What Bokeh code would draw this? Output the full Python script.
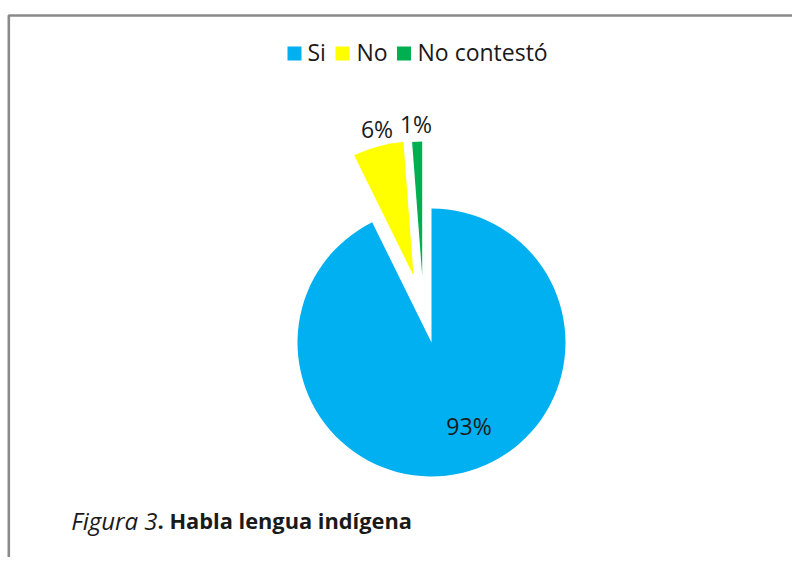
import math
from bokeh.plotting import figure
from bokeh.models import ColumnDataSource, Range1d
from bokeh.core.properties import value
from bokeh.embed import file_html
from bokeh.resources import INLINE

# ---- data ----
categories = ["Si", "No", "No contestó"]
percent = [92.7, 6.1, 1.2]
colors = ["#00B0F0", "#FFFF00", "#00B050"]
caption_italic = "Figura 3"
caption_bold = ". Habla lengua indígena"

# ---- style / layout (pixel units, data units == pixels) ----
W, H = 792, 557
FONT = value("Open Sans")
TEXT_COLOR = "#1a1a1a"

def X(sx):
    return sx

def Y(sy):
    return H - sy

cx, cy, R = X(431), Y(342), 134
explode_dx = [0, -18, -9.3]     # screen px
explode_dy = [0, -67, -67]      # screen px (down positive)
label_dx = [37.5, -36.5, -6.2]  # label centre relative to slice apex, screen px
label_dy = [83.5, -147, -152]

p = figure(width=W, height=H, x_range=Range1d(0, W), y_range=Range1d(0, H),
           output_backend="svg", toolbar_location=None, min_border=0,
           x_axis_location=None, y_axis_location=None)
p.grid.visible = False
p.outline_line_color = None
p.background_fill_color = "white"
p.border_fill_color = "white"

# chart frame border (only top/left visible in the window)
p.line(x=[X(8.3), X(8.3), W], y=[0, Y(15), Y(15)], line_color="#8a8a8a", line_width=2.6)

# ---- pie ----
total = sum(percent)
starts, ends, xs, ys, lx, ly, labels = [], [], [], [], [], [], []
cum = 0.0
for i, v in enumerate(percent):
    a0 = cum / total * 2 * math.pi
    cum += v
    a1 = cum / total * 2 * math.pi
    starts.append(math.pi / 2 - a0)
    ends.append(math.pi / 2 - a1)
    ax = cx + explode_dx[i]
    ay = cy - explode_dy[i]
    xs.append(ax)
    ys.append(ay)
    lx.append(ax + label_dx[i])
    ly.append(ay - label_dy[i])
    labels.append(f"{round(v / total * 100):d}%")

src = ColumnDataSource(dict(x=xs, y=ys, start=starts, end=ends, color=colors,
                            lx=lx, ly=ly, label=labels, cat=categories))
p.wedge(x="x", y="y", radius=R, start_angle="start", end_angle="end",
        direction="clock", fill_color="color", line_color=None, source=src)
p.text(x="lx", y="ly", text="label", source=src, text_font=FONT,
       text_font_size="23px", text_color=TEXT_COLOR,
       text_align="center", text_baseline="middle")

# ---- legend (manual) ----
sq_x = [X(294), X(342), X(403.5)]
txt_x = [X(307), X(356), X(417)]
leg = ColumnDataSource(dict(sx=sq_x, tx=txt_x, sy=[Y(53)] * 3, ty=[Y(51)] * 3,
                            color=colors, cat=categories))
p.rect(x="sx", y="sy", width=14, height=14, fill_color="color", line_color=None, source=leg)
p.text(x="tx", y="ty", text="cat", source=leg, text_font=FONT, text_font_size="23px",
       text_color=TEXT_COLOR, text_align="left", text_baseline="alphabetic")

# ---- caption ----
p.text(x=[X(157)], y=[Y(520)], text=[caption_italic], text_font=FONT,
       text_font_style=value("italic"), text_font_size="24px", text_color=TEXT_COLOR,
       text_align="right", text_baseline="alphabetic")
p.text(x=[X(157)], y=[Y(520)], text=[caption_bold], text_font=FONT,
       text_font_style=value("bold"), text_font_size="21.8px", text_color=TEXT_COLOR,
       text_align="left", text_baseline="alphabetic")

open("out.html", "w").write(file_html(p, INLINE))
